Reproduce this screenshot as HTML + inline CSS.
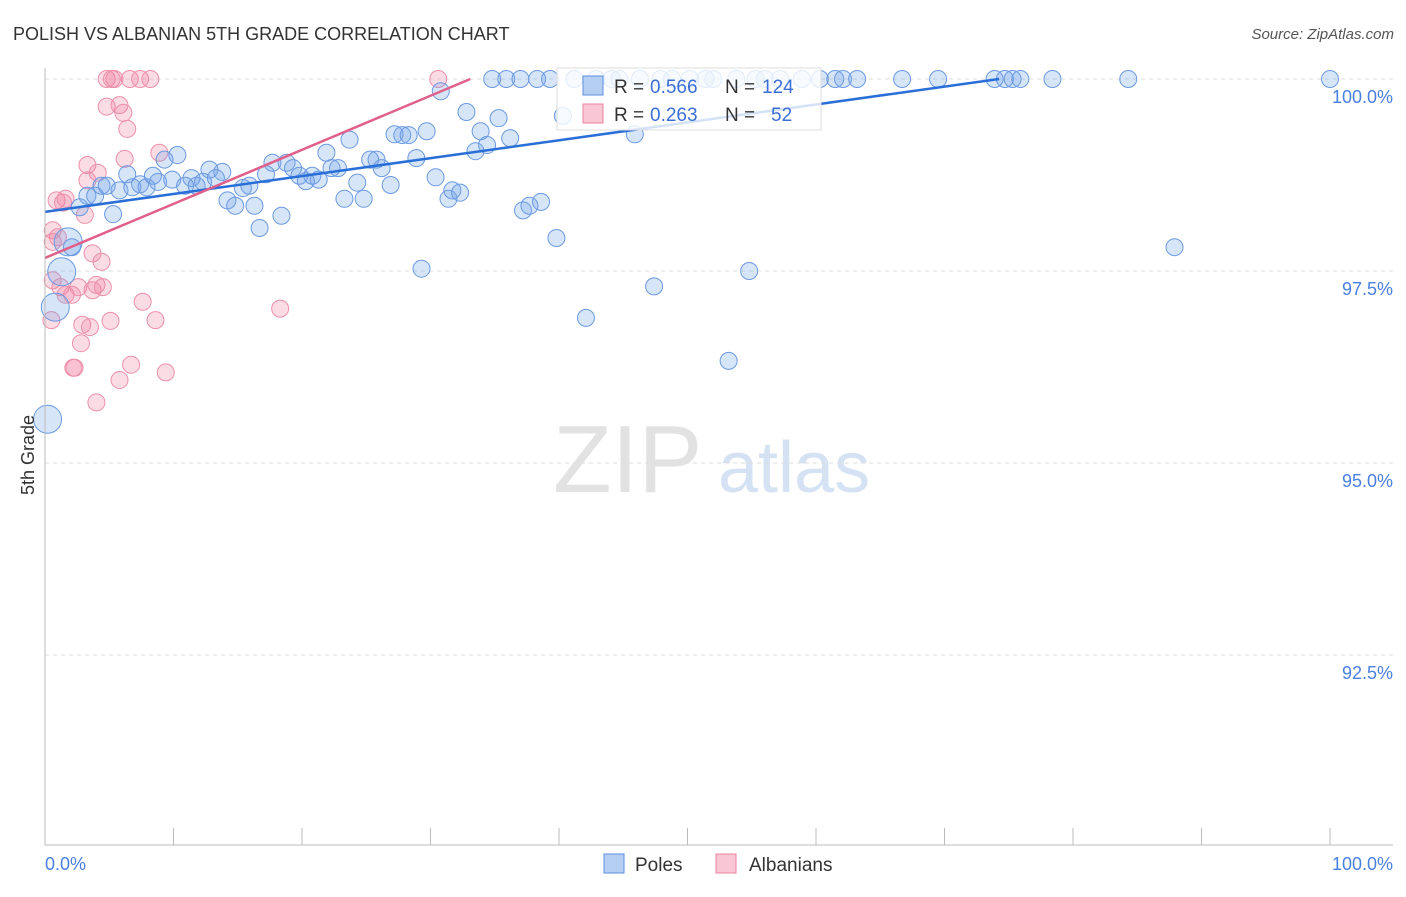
<!DOCTYPE html>
<html><head><meta charset="utf-8"><style>
body{margin:0;background:#fff;font-family:"Liberation Sans",sans-serif;}
svg text{font-family:"Liberation Sans",sans-serif;}
</style></head><body>
<svg id="c" width="1406" height="892">
<text x="13" y="40" font-size="18" fill="#333">POLISH VS ALBANIAN 5TH GRADE CORRELATION CHART</text>
<text x="1394" y="39" font-size="15" fill="#555" font-style="italic" text-anchor="end">Source: ZipAtlas.com</text>
<g><text x="553" y="492" font-size="96" fill="#e2e2e2" font-family="Liberation Serif,serif">ZIP</text><text x="718" y="492" font-size="72" fill="#d5e2f4">atlas</text></g>
<g id="grid"></g><g id="pts"></g><g id="lines"></g><g id="axes"></g>
<text transform="translate(34,455) rotate(-90)" font-size="18" fill="#333" text-anchor="middle">5th Grade</text>
<g>
<rect x="557" y="68" width="264" height="62" fill="#fff" fill-opacity="0.8" stroke="#ddd"/>
<rect x="583" y="76" width="20" height="19" fill="#b5cff2" stroke="#5b8fe0"/>
<rect x="583" y="104" width="20" height="19" fill="#f8c6d4" stroke="#e8849f"/>
<text x="614" y="93" font-size="19" fill="#333">R =</text><text x="650" y="93" font-size="19" fill="#3b6fd6">0.566</text>
<text x="725" y="93" font-size="19" fill="#333">N =</text><text x="762" y="93" font-size="19" fill="#3b6fd6">124</text>
<text x="614" y="121" font-size="19" fill="#333">R =</text><text x="650" y="121" font-size="19" fill="#3b6fd6">0.263</text>
<text x="725" y="121" font-size="19" fill="#333">N =</text><text x="771" y="121" font-size="19" fill="#3b6fd6">52</text>
</g>
<g><rect x="604" y="854" width="20" height="19" fill="#b5cff2" stroke="#5b8fe0"/><text x="635" y="871" font-size="19" fill="#333">Poles</text></g>
<g><rect x="716" y="854" width="20" height="19" fill="#f8c6d4" stroke="#e8849f"/><text x="749" y="871" font-size="19" fill="#333">Albanians</text></g>
</svg>
<script>
const yTicks=[100,97.5,95,92.5];
const yTickLabels=["100.0%","97.5%","95.0%","92.5%"];
const polesX=[0.2,1.3,0.8,1.8,2.1,2.7,3.3,3.9,4.4,4.8,5.3,5.8,6.4,6.8,7.4,7.9,8.4,8.8,9.3,9.9,10.3,10.9,11.4,11.8,12.3,12.8,13.3,13.8,14.2,14.8,15.4,15.9,16.3,16.7,17.2,17.7,18.4,18.8,19.3,19.8,20.3,20.8,21.3,21.9,22.3,22.8,23.3,23.7,24.3,24.8,25.3,25.8,26.2,26.9,27.2,27.8,28.3,28.9,29.3,29.7,30.4,30.8,31.4,31.7,32.3,32.8,33.5,33.9,34.4,34.8,35.3,35.9,36.2,37.0,37.2,37.7,38.3,38.6,39.3,39.8,40.3,41.2,42.1,42.9,44.1,44.7,45.9,46.3,47.4,47.9,48.8,50.2,51.4,52.0,53.2,53.8,54.8,55.3,56.0,57.2,58.9,60.3,61.5,62.1,63.2,66.7,69.5,73.9,74.7,75.3,75.9,78.4,84.3,87.9,100];
const polesY=[95.57,97.49,97.03,97.88,97.81,98.33,98.48,98.48,98.61,98.61,98.24,98.55,98.76,98.59,98.63,98.59,98.74,98.66,98.95,98.69,99.01,98.61,98.71,98.61,98.66,98.82,98.71,98.79,98.42,98.35,98.58,98.61,98.35,98.06,98.76,98.91,98.22,98.91,98.84,98.74,98.67,98.74,98.69,99.04,98.84,98.84,98.44,99.21,98.65,98.44,98.95,98.95,98.84,98.62,99.28,99.27,99.27,98.97,97.53,99.32,98.72,99.84,98.44,98.55,98.52,99.57,99.06,99.32,99.14,100,99.49,100,99.23,100,98.29,98.35,100,98.40,100,97.93,99.52,100,96.89,100,100,100,99.28,100,97.30,100,100,100,100,100,96.33,100,97.5,100,100,100,100,100,100,100,100,100,100,100,100,100,100,100,100,97.81,100];
const polesBig=[0,1,2,3];
const albX=[4.8,5.2,5.4,6.6,7.4,8.2,30.6,4.8,5.8,6.1,6.4,6.2,8.9,3.3,4.1,3.3,0.9,1.6,1.4,3.1,0.6,1.0,0.6,3.7,4.4,0.6,1.2,1.6,2.1,2.6,3.7,4.0,4.5,7.6,8.6,18.3,0.5,2.9,3.5,5.1,2.8,2.3,2.2,6.7,5.8,9.4,4.0];
const albY=[100,100,100,100,100,100,100,99.64,99.66,99.56,99.35,98.96,99.04,98.88,98.78,98.68,98.42,98.44,98.39,98.23,98.03,97.94,97.88,97.73,97.62,97.38,97.29,97.19,97.19,97.29,97.25,97.32,97.29,97.10,96.86,97.01,96.86,96.80,96.77,96.85,96.56,96.24,96.24,96.28,96.08,96.18,95.79];
const polesTrend=[98.27,0.0233];
const albTrend=[97.67,0.0704];
const NS="http://www.w3.org/2000/svg";
const X=v=>45+v*12.85;
const Y=v=>79+(100-v)*76.8;
function mk(t,a,p){const e=document.createElementNS(NS,t);for(const k in a)e.setAttribute(k,a[k]);p.appendChild(e);return e;}
const grid=document.getElementById('grid'),pts=document.getElementById('pts'),lines=document.getElementById('lines'),axes=document.getElementById('axes');
yTicks.forEach((t,i)=>{
 const g=mk('line',{x1:45,x2:1393,y1:Y(t),y2:Y(t),stroke:'#ddd','stroke-dasharray':'4,4'},grid);
 
 
 const l=mk('text',{x:1393,y:Y(t)+24,'font-size':18,fill:'#4a7fe0','text-anchor':'end'},axes);
 l.textContent=yTickLabels[i];
 
 
});
const ax=mk('line',{x1:45,x2:45,y1:68,y2:845,stroke:'#bbb'},axes);


const bx=mk('line',{x1:45,x2:1393,y1:845,y2:845,stroke:'#bbb'},axes);


for(let k=0;k<=10;k++){const t=mk('line',{x1:X(k*10),x2:X(k*10),y1:828,y2:845,stroke:'#bbb'},axes);
 
 }
[["0.0%",45,'start'],["100.0%",1393,'end']].forEach(d=>{const t=mk('text',{x:d[1],y:870,'font-size':18,fill:'#4a7fe0','text-anchor':d[2]},axes);t.textContent=d[0];
 
 });
albX.forEach((v,i)=>{const c=mk('circle',{cx:X(v),cy:Y(albY[i]),r:8.5,fill:'rgba(240,130,160,0.28)',stroke:'#ec90aa','stroke-width':1},pts);
 
 });
polesX.forEach((v,i)=>{const big=polesBig.includes(i);const c=mk('circle',{cx:X(v),cy:Y(polesY[i]),r:big?14:8.5,fill:'rgba(110,160,230,0.28)',stroke:'#6b9ae2','stroke-width':1},pts);
 
 });
const bEnd=(100-polesTrend[0])/polesTrend[1];
const bl=mk('line',{x1:X(0),y1:Y(polesTrend[0]),x2:X(bEnd),y2:Y(100),stroke:'#2a6fd8','stroke-width':2.5},lines);


const aEnd=(100-albTrend[0])/albTrend[1];
const al=mk('line',{x1:X(0),y1:Y(albTrend[0]),x2:X(aEnd),y2:Y(100),stroke:'#e0608a','stroke-width':2.5},lines);


</script>
</body></html>
